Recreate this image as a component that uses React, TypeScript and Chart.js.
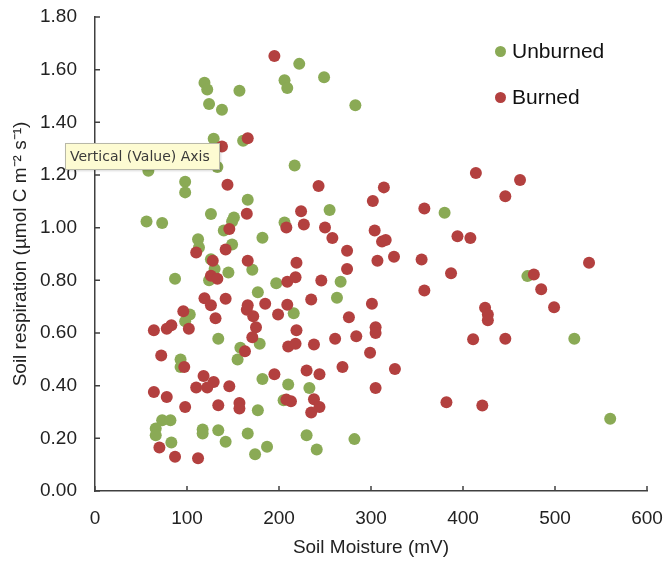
import React, { useEffect, useRef } from 'react';
import { Chart, registerables } from 'chart.js';

Chart.register(...registerables);

// Unburned plots (soil moisture mV, soil respiration)
const unburnedX = [119, 122, 157, 124, 138, 206, 209, 129, 161, 133, 58, 98, 98, 222, 249, 283, 217, 166, 126, 151, 149, 56, 73, 140, 206, 182, 112, 113, 149, 126, 130, 171, 87, 145, 124, 197, 177, 103, 98, 134, 255, 380, 267, 263, 216, 470, 521, 158, 179, 93, 93, 155, 182, 210, 205, 177, 73, 82, 66, 66, 117, 117, 134, 142, 166, 83, 187, 174, 233, 230, 241, 282, 560];
const unburnedY = [1.55, 1.525, 1.52, 1.47, 1.448, 1.56, 1.53, 1.338, 1.33, 1.23, 1.216, 1.174, 1.134, 1.622, 1.571, 1.465, 1.236, 1.106, 1.052, 1.039, 1.023, 1.023, 1.018, 0.989, 1.02, 0.962, 0.956, 0.925, 0.936, 0.88, 0.843, 0.84, 0.806, 0.83, 0.8, 0.789, 0.755, 0.67, 0.645, 0.578, 1.067, 1.057, 0.795, 0.734, 0.675, 0.816, 0.578, 0.544, 0.559, 0.499, 0.471, 0.499, 0.425, 0.404, 0.345, 0.307, 0.269, 0.269, 0.237, 0.212, 0.234, 0.218, 0.231, 0.187, 0.218, 0.184, 0.168, 0.14, 0.391, 0.212, 0.158, 0.197, 0.274];

// Burned plots
const burnedX = [195, 138, 166, 144, 414, 243, 462, 165, 146, 208, 110, 142, 128, 166, 126, 133, 209, 119, 126, 142, 166, 165, 185, 209, 96, 172, 199, 131, 64, 78, 83, 102, 175, 171, 314, 302, 358, 224, 227, 250, 258, 304, 312, 316, 394, 408, 274, 325, 307, 355, 219, 274, 387, 246, 218, 358, 235, 301, 276, 305, 305, 219, 261, 284, 411, 446, 537, 477, 485, 499, 424, 427, 427, 446, 163, 210, 218, 238, 72, 97, 195, 118, 129, 110, 122, 146, 64, 78, 98, 134, 157, 157, 208, 70, 87, 112, 299, 230, 244, 269, 326, 305, 213, 238, 244, 235, 382, 421];
const burnedY = [1.652, 1.308, 1.34, 1.163, 1.208, 1.158, 1.181, 1.053, 0.995, 1.001, 0.906, 0.917, 0.874, 0.874, 0.817, 0.806, 0.795, 0.732, 0.705, 0.73, 0.705, 0.688, 0.711, 0.707, 0.683, 0.664, 0.67, 0.656, 0.61, 0.616, 0.629, 0.616, 0.622, 0.584, 1.153, 1.101, 1.073, 1.062, 1.012, 1.001, 0.961, 0.989, 0.947, 0.953, 0.967, 0.961, 0.912, 0.89, 0.874, 0.879, 0.867, 0.843, 0.827, 0.799, 0.812, 0.761, 0.727, 0.711, 0.66, 0.622, 0.6, 0.61, 0.578, 0.588, 0.576, 1.119, 0.867, 0.822, 0.766, 0.698, 0.696, 0.67, 0.648, 0.578, 0.531, 0.549, 0.559, 0.556, 0.515, 0.471, 0.443, 0.437, 0.414, 0.393, 0.393, 0.398, 0.376, 0.357, 0.319, 0.326, 0.334, 0.313, 0.347, 0.165, 0.13, 0.124, 0.525, 0.458, 0.443, 0.471, 0.463, 0.391, 0.341, 0.348, 0.319, 0.298, 0.337, 0.325];

const seriesNames = ['Unburned', 'Burned'];
const seriesColors = ['#8aaa55', '#b3403f'];
const xTitle = 'Soil Moisture (mV)';
const yTitle = 'Soil respiration (µmol C m⁻² s⁻¹)';
const tooltipText = 'Vertical (Value) Axis';

const FONT = "'Liberation Sans', Arial, Helvetica, sans-serif";

const innerTicks = {
  id: 'innerTicks',
  afterDraw(chart: any) {
    const { ctx, chartArea, scales } = chart;
    ctx.save();
    ctx.strokeStyle = '#404040';
    ctx.lineWidth = 1.5;
    ctx.beginPath();
    scales.x.ticks.forEach((t: any) => {
      const px = scales.x.getPixelForValue(t.value);
      ctx.moveTo(px, chartArea.bottom);
      ctx.lineTo(px, chartArea.bottom - 5);
    });
    scales.y.ticks.forEach((t: any) => {
      const py = scales.y.getPixelForValue(t.value);
      ctx.moveTo(chartArea.left, py);
      ctx.lineTo(chartArea.left + 5, py);
    });
    ctx.stroke();
    ctx.restore();
  },
};

export default function App() {
  const canvasRef = useRef<HTMLCanvasElement | null>(null);

  useEffect(() => {
    if (!canvasRef.current) return;
    const toPts = (xs: number[], ys: number[]) => xs.map((x, i) => ({ x, y: ys[i] }));
    const chart = new Chart(canvasRef.current, {
      type: 'scatter',
      data: {
        datasets: [
          {
            label: seriesNames[0],
            data: toPts(unburnedX, unburnedY),
            backgroundColor: seriesColors[0],
            borderWidth: 0,
            pointRadius: 6,
            order: 1,
          },
          {
            label: seriesNames[1],
            data: toPts(burnedX, burnedY),
            backgroundColor: seriesColors[1],
            borderWidth: 0,
            pointRadius: 6,
            order: 0,
          },
        ],
      },
      options: {
        animation: false,
        responsive: true,
        maintainAspectRatio: false,
        layout: { padding: { left: 0, top: 17, right: 20, bottom: 0 } },
        plugins: { legend: { display: false }, tooltip: { enabled: false } },
        scales: {
          x: {
            type: 'linear',
            min: 0,
            max: 600,
            ticks: { stepSize: 100, color: '#222', font: { family: FONT, size: 19 }, padding: 16 },
            grid: { display: false, drawTicks: false },
            border: { display: true, color: '#404040', width: 1.5 },
            title: { display: true, text: xTitle, color: '#222', font: { family: FONT, size: 19 }, padding: { top: 0, bottom: 4 } },
            afterFit: (s: any) => { s.height = 72; s.paddingLeft = 0; s.paddingRight = 0; },
          },
          y: {
            type: 'linear',
            min: 0,
            max: 1.8,
            ticks: {
              stepSize: 0.2,
              color: '#222',
              font: { family: FONT, size: 19 },
              padding: 18,
              callback: (v: any) => Number(v).toFixed(2),
            },
            grid: { display: false, drawTicks: false },
            border: { display: true, color: '#404040', width: 1.5 },
            title: { display: true, text: yTitle, color: '#222', font: { family: FONT, size: 19 }, padding: { top: 9, bottom: 0 } },
            afterFit: (s: any) => { s.width = 95; s.paddingTop = 0; s.paddingBottom = 0; },
          },
        },
      },
      plugins: [innerTicks],
    } as any);
    return () => chart.destroy();
  }, []);

  const legendRow = (i: number, top: number) => (
    <div key={i} style={{ position: 'absolute', left: 495, top: top - 13, height: 26, display: 'flex', alignItems: 'center', fontFamily: FONT, fontSize: 21, color: '#111' }}>
      <span style={{ display: 'inline-block', width: 11, height: 11, borderRadius: '50%', background: seriesColors[i], marginRight: 6 }} />
      <span>{seriesNames[i]}</span>
    </div>
  );

  return (
    <div style={{ position: 'fixed', left: 0, top: 0, width: 667, height: 563, background: '#fff' }}>
      <canvas ref={canvasRef} />
      {legendRow(0, 51)}
      {legendRow(1, 97)}
      <div style={{ position: 'absolute', left: 65, top: 143, width: 155, height: 27, boxSizing: 'border-box', background: '#fdfbd2', border: '1px solid #b8b8a8', fontFamily: "'DejaVu Sans', sans-serif", fontSize: 14, color: '#3a3a3a', lineHeight: '25px', paddingLeft: 4, whiteSpace: 'nowrap', overflow: 'hidden', boxShadow: '1px 1px 2px rgba(0,0,0,0.15)' }}>
        {tooltipText}
      </div>
    </div>
  );
}
